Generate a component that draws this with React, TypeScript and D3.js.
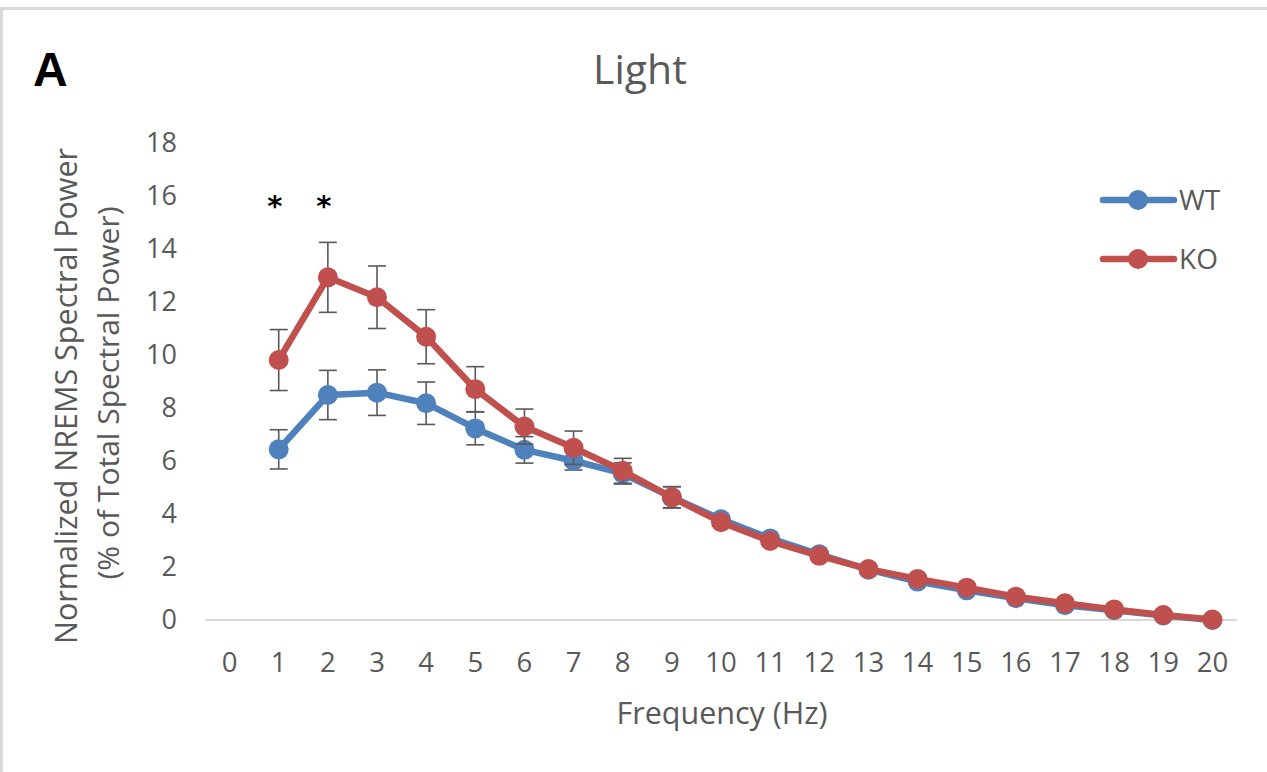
import React from 'react';
import * as d3 from 'd3';

const freqs = ['0', '1', '2', '3', '4', '5', '6', '7', '8', '9', '10', '11', '12', '13', '14', '15', '16', '17', '18', '19', '20'];
const wtMean = [null, 6.44, 8.49, 8.58, 8.18, 7.23, 6.42, 6.01, 5.53, 4.63, 3.8, 3.08, 2.48, 1.9, 1.45, 1.12, 0.82, 0.56, 0.37, 0.17, 0.0];
const wtErr = [null, 0.74, 0.93, 0.86, 0.8, 0.62, 0.5, 0.35, 0.4, 0.4, 0.15, 0.12, 0.1, 0.08, 0.06, 0.05, 0.04, 0.03, 0.03, 0.02, 0.01];
const koMean = [null, 9.81, 12.93, 12.18, 10.69, 8.71, 7.3, 6.5, 5.63, 4.63, 3.69, 2.98, 2.42, 1.92, 1.55, 1.22, 0.88, 0.63, 0.4, 0.19, 0.02];
const koErr = [null, 1.15, 1.32, 1.18, 1.02, 0.85, 0.66, 0.63, 0.47, 0.4, 0.15, 0.12, 0.1, 0.08, 0.06, 0.05, 0.04, 0.03, 0.03, 0.02, 0.01];
const yTicks = [0, 2, 4, 6, 8, 10, 12, 14, 16, 18];
const starred = ['1', '2'];

const W = 1267;
const H = 772;
const font = '"Open Sans", sans-serif';
const textColor = '#595959';

const series = [
  { name: 'WT', mean: wtMean, err: wtErr, color: '#4f81bd' },
  { name: 'KO', mean: koMean, err: koErr, color: '#c0504d' },
];

export default function App() {
  const x = d3.scalePoint().domain(freqs).range([205, 1237]).padding(0.5);
  const y = d3.scaleLinear().domain([0, 18]).range([620, 143]);

  const line = d3.line<number | null>()
    .defined(d => d !== null)
    .x((d, i) => x(freqs[i]) as number)
    .y(d => y(d as number));

  return (
    <svg width={W} height={H} style={{ position: 'absolute', left: 0, top: 0, background: '#fff' }}>
      <rect x={1.5} y={8.5} width={W + 10} height={H + 10} fill="#fff" stroke="#d9d9d9" strokeWidth={3} />

      <text x={33} y={86} fontFamily='"Liberation Sans", Arial, sans-serif' fontWeight="bold" fontSize={48} fill="#000">A</text>
      <text x={640} y={84} textAnchor="middle" fontFamily={font} fontSize={41} fill={textColor}>Light</text>

      {/* y axis labels */}
      {yTicks.map(t => (
        <text key={t} x={177} y={y(t)} dy="0.35em" textAnchor="end" fontFamily={font} fontSize={27} fill={textColor}>{t}</text>
      ))}
      <g transform="translate(66,396) rotate(-90)">
        <text textAnchor="middle" dy="0.35em" fontFamily={font} fontSize={30.5} fill={textColor}>Normalized NREMS Spectral Power</text>
      </g>
      <g transform="translate(108,393) rotate(-90)">
        <text textAnchor="middle" dy="0.35em" fontFamily={font} fontSize={30} fill={textColor}>(% of Total Spectral Power)</text>
      </g>

      {/* x axis */}
      <line x1={x.range()[0]} x2={x.range()[1]} y1={y(0)} y2={y(0)} stroke="#d9d9d9" strokeWidth={2} />
      {freqs.map(f => (
        <text key={f} x={x(f)} y={672} textAnchor="middle" fontFamily={font} fontSize={27.5} fill={textColor}>{f}</text>
      ))}
      <text x={722} y={724} textAnchor="middle" fontFamily={font} fontSize={30.5} fill={textColor}>Frequency (Hz)</text>

      {/* significance */}
      {starred.map(f => (
        <text key={f} x={(x(f) as number) - 4} y={216} textAnchor="middle" fontFamily='"DejaVu Sans", sans-serif' fontWeight="bold" fontSize={29} fill="#000">*</text>
      ))}

      {series.map(s => (
        <g key={s.name}>
          {s.mean.map((m, i) => m === null ? null : (
            <g key={i} stroke="#595959" strokeWidth={1.6}>
              <line x1={x(freqs[i])} x2={x(freqs[i])} y1={y(m + (s.err[i] as number))} y2={y(m - (s.err[i] as number))} />
              <line x1={(x(freqs[i]) as number) - 9} x2={(x(freqs[i]) as number) + 9} y1={y(m + (s.err[i] as number))} y2={y(m + (s.err[i] as number))} />
              <line x1={(x(freqs[i]) as number) - 9} x2={(x(freqs[i]) as number) + 9} y1={y(m - (s.err[i] as number))} y2={y(m - (s.err[i] as number))} />
            </g>
          ))}
          <path d={line(s.mean) as string} fill="none" stroke={s.color} strokeWidth={6.5} strokeLinejoin="round" strokeLinecap="round" />
          {s.mean.map((m, i) => m === null ? null : (
            <circle key={i} cx={x(freqs[i])} cy={y(m)} r={10} fill={s.color} />
          ))}
        </g>
      ))}

      {/* legend */}
      {series.map((s, i) => (
        <g key={s.name} transform={`translate(0,${200 + i * 59})`}>
          <line x1={1103} x2={1174} y1={0} y2={0} stroke={s.color} strokeWidth={6.5} strokeLinecap="round" />
          <circle cx={1138} cy={0} r={10} fill={s.color} />
          <text x={1179} y={0} dy="0.35em" fontFamily={font} fontSize={28} fill={textColor}>{s.name}</text>
        </g>
      ))}
    </svg>
  );
}
